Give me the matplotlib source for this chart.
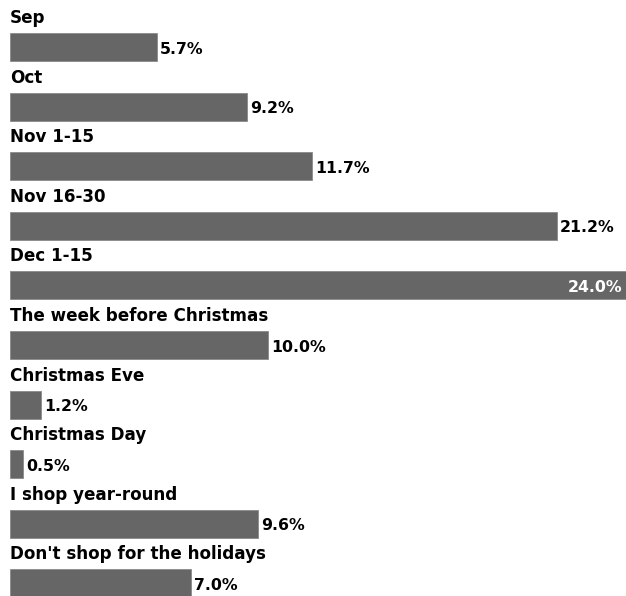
import matplotlib.pyplot as plt

labels = ["Sep", "Oct", "Nov 1-15", "Nov 16-30", "Dec 1-15",
          "The week before Christmas", "Christmas Eve", "Christmas Day",
          "I shop year-round", "Don't shop for the holidays"]
values = [5.7, 9.2, 11.7, 21.2, 24.0, 10.0, 1.2, 0.5, 9.6, 7.0]

fig = plt.figure(figsize=(6.26, 5.96), dpi=100)
ax = fig.add_axes([0, 0, 1, 1])

px = 25.8  # pixels per percent
ax.set_xlim(-10 / px, 616 / px)
ax.set_ylim(596, 0)

step = 59.6
for i, (lab, v) in enumerate(zip(labels, values)):
    yc = 47 + step * i
    ax.barh(yc, v, height=28, left=0, color="#666666", edgecolor="#8a8a8a", linewidth=0.6)
    ax.text(0, yc - 24, lab, fontsize=12.1, fontweight="heavy", va="baseline", ha="left", color="black")
    txt = f"{v:.1f}%"
    if v == max(values):
        ax.text(v - 0.25, yc + 2, txt, fontsize=11.3, fontweight="heavy", va="center", ha="right", color="white")
    else:
        ax.text(v + 0.12, yc + 2, txt, fontsize=11.3, fontweight="heavy", va="center", ha="left", color="black")

ax.axis("off")
fig.savefig("out.png", dpi=100)
